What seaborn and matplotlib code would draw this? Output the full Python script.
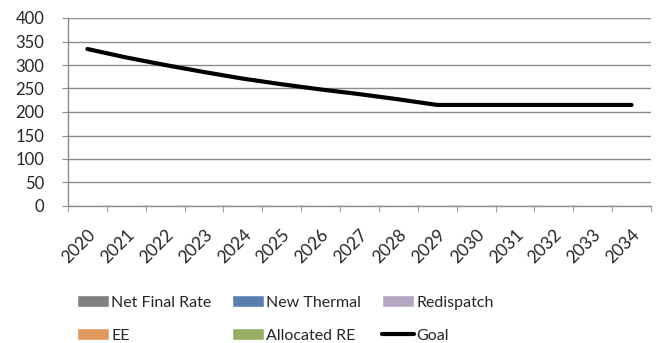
import numpy as np
import pandas as pd
import matplotlib
matplotlib.use("Agg")
import matplotlib.pyplot as plt
import seaborn as sns

years = [str(y) for y in range(2020, 2035)]
net_final_rate = [0] * 15
new_thermal = [0] * 15
redispatch = [0] * 15
ee = [0] * 15
allocated_re = [0] * 15
goal = [334, 316, 300, 285, 271, 259, 248, 238, 227, 215, 215, 215, 215, 215, 215]

bar_series = [
    ("Net Final Rate", net_final_rate, "#808080"),
    ("New Thermal", new_thermal, "#4a7ebb"),
    ("Redispatch", redispatch, "#b3a2c7"),
    ("EE", ee, "#f79646"),
    ("Allocated RE", allocated_re, "#9bbb59"),
]

sns.set_style("white")
plt.rcParams["font.family"] = ["Lato", "DejaVu Sans"]

fig = plt.figure(figsize=(6.6, 3.43), dpi=100)
ax = fig.add_axes([68 / 660, 1 - 206 / 343, (651 - 68) / 660, (206 - 18) / 343])

bottom = np.zeros(len(years))
for name, vals, col in bar_series:
    sns.barplot(x=years, y=np.array(vals) + bottom, color=col, label=name,
                ax=ax, errorbar=None, width=0.6, zorder=1)
    bottom += np.array(vals)

sns.lineplot(x=np.arange(len(years)), y=goal, color="black", linewidth=3,
             label="Goal", ax=ax, zorder=3)

ax.set_xlim(-0.5, len(years) - 0.5)
ax.set_ylim(0, 400)
ax.set_yticks(range(0, 401, 50))
ax.yaxis.grid(True, color="#8c8c8c", linewidth=1)
ax.set_axisbelow(True)
for s in ["top", "right"]:
    ax.spines[s].set_visible(False)
for s in ["left", "bottom"]:
    ax.spines[s].set_color("#8c8c8c")
    ax.spines[s].set_linewidth(1)

ax.set_xticks(np.arange(len(years)))
ax.set_xticklabels(years, rotation=45, ha="right", rotation_mode="anchor",
                   fontsize=12.5)
ax.set_xticks(np.arange(-0.5, len(years)), minor=True)
ax.tick_params(axis="x", which="major", length=0, pad=15)
ax.tick_params(axis="x", which="minor", length=4, color="#8c8c8c",
               direction="out", bottom=True)
ax.tick_params(axis="y", length=4, color="#8c8c8c", direction="out",
               left=True, labelsize=12, pad=13)
ax.set_xlabel("")
ax.set_ylabel("")

# legend rows: Net Final Rate / New Thermal / Redispatch, then EE / Allocated RE / Goal
handles, labels = ax.get_legend_handles_labels()
lookup = dict(zip(labels, handles))
order = ["Net Final Rate", "EE", "New Thermal", "Allocated RE", "Redispatch", "Goal"]
ax.legend([lookup[k] for k in order], order, ncol=3, frameon=False, fontsize=11.5,
          loc="upper left", bbox_to_anchor=(0.004, -0.44),
          handlelength=2.0, handleheight=0.8, handletextpad=0.15,
          columnspacing=1.3, labelspacing=1.15, borderaxespad=0)

fig.savefig("out.png", dpi=100)
